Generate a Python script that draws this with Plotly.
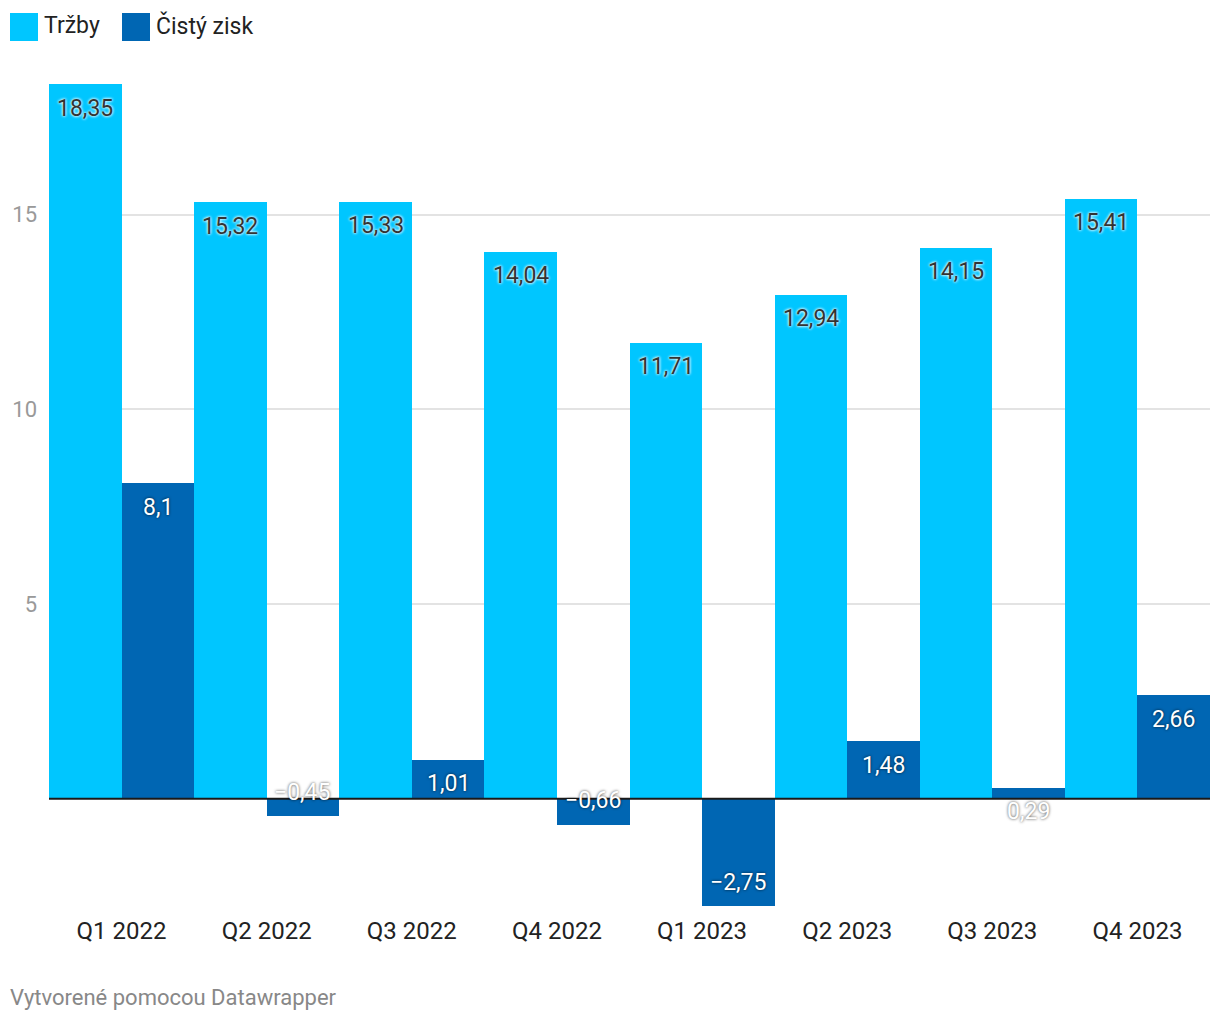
import plotly.graph_objects as go

categories = ["Q1 2022", "Q2 2022", "Q3 2022", "Q4 2022", "Q1 2023", "Q2 2023", "Q3 2023", "Q4 2023"]
trzby = [18.35, 15.32, 15.33, 14.04, 11.71, 12.94, 14.15, 15.41]
cisty_zisk = [8.1, -0.45, 1.01, -0.66, -2.75, 1.48, 0.29, 2.66]
series_names = ["Tržby", "Čistý zisk"]
y_ticks = [5, 10, 15]

LIGHT = "#00c6ff"
DARK = "#0066b3"
FONT = "Roboto"

OFF = 8  # page body margin
W, H = 1220 - OFF, 1020 - OFF
ML, MR, MT, MB = 49 - OFF, 10, 84 - OFF, 114
PW, PH = W - ML - MR, H - MT - MB


def px(xp):
    return (xp - OFF - ML) / PW


def py(yp):
    return (H - MB - (yp - OFF)) / PH


def fmt(v):
    s = f"{abs(v):.2f}".rstrip("0").rstrip(".").replace(".", ",")
    return ("\u2212" if v < 0 else "") + s


fig = go.Figure()
fig.add_trace(go.Bar(x=categories, y=trzby, name=series_names[0], marker=dict(color=LIGHT, line=dict(width=0)), hoverinfo="skip"))
fig.add_trace(go.Bar(x=categories, y=cisty_zisk, name=series_names[1], marker=dict(color=DARK, line=dict(width=0)), hoverinfo="skip"))

annotations = []
bar_w = PW / len(categories) / 2
for vals, shift, color, shadow in [
    (trzby, -bar_w / 2, "#333333", "0px 0px 3px #ffffff, 0px 0px 3px #ffffff"),
    (cisty_zisk, bar_w / 2, "#ffffff", "0px 0px 3px rgba(0,0,0,0.75)"),
]:
    for c, v in zip(categories, vals):
        annotations.append(dict(
            x=c, y=v, xref="x", yref="y", text=fmt(v), showarrow=False,
            xshift=shift, yshift=-24 if v >= 0 else 24,
            xanchor="center", yanchor="middle",
            font=dict(family=FONT, size=23, color=color, shadow=shadow),
        ))

# legend
shapes = []
legend_items = [(series_names[0], LIGHT, 10, 42), (series_names[1], DARK, 122, 154)]
for name, col, x0, tx in legend_items:
    shapes.append(dict(type="rect", xref="paper", yref="paper", x0=px(x0), x1=px(x0 + 28),
                       y0=py(41), y1=py(13), fillcolor=col, line=dict(width=0)))
    annotations.append(dict(x=px(tx), y=py(26), xref="paper", yref="paper", text=name,
                            showarrow=False, xanchor="left", yanchor="middle",
                            font=dict(family=FONT, size=23, color="#222222")))

annotations.append(dict(x=px(8), y=py(997), xref="paper", yref="paper",
                        text="Vytvorené pomocou Datawrapper", showarrow=False,
                        xanchor="left", yanchor="middle",
                        font=dict(family=FONT, size=22, color="#888888")))

# zero baseline above bars
shapes.append(dict(type="line", xref="paper", yref="y", x0=0, x1=1, y0=0, y1=0,
                   line=dict(color="#1a1a1a", width=2), layer="above"))

fig.update_layout(
    template="none",
    width=W, height=H,
    margin=dict(l=ML, r=MR, t=MT, b=MB, pad=0, autoexpand=False),
    paper_bgcolor="white", plot_bgcolor="white",
    barmode="group", bargap=0, bargroupgap=0,
    showlegend=False,
    font=dict(family=FONT),
    annotations=annotations, shapes=shapes,
    xaxis=dict(showgrid=False, showline=False, ticks="", zeroline=False, automargin=False,
               tickfont=dict(family=FONT, size=24, color="#222222"),
               ticklabelstandoff=8, fixedrange=True),
    yaxis=dict(range=[min(cisty_zisk), max(trzby)], tickvals=y_ticks,
               ticktext=[str(t) for t in y_ticks], automargin=False,
               showgrid=True, gridcolor="#e3e3e3", gridwidth=2,
               zeroline=False, showline=False, ticks="",
               tickfont=dict(family=FONT, size=22, color="#999999"),
               ticklabelstandoff=11, fixedrange=True),
)

fig.write_html("out.html")
